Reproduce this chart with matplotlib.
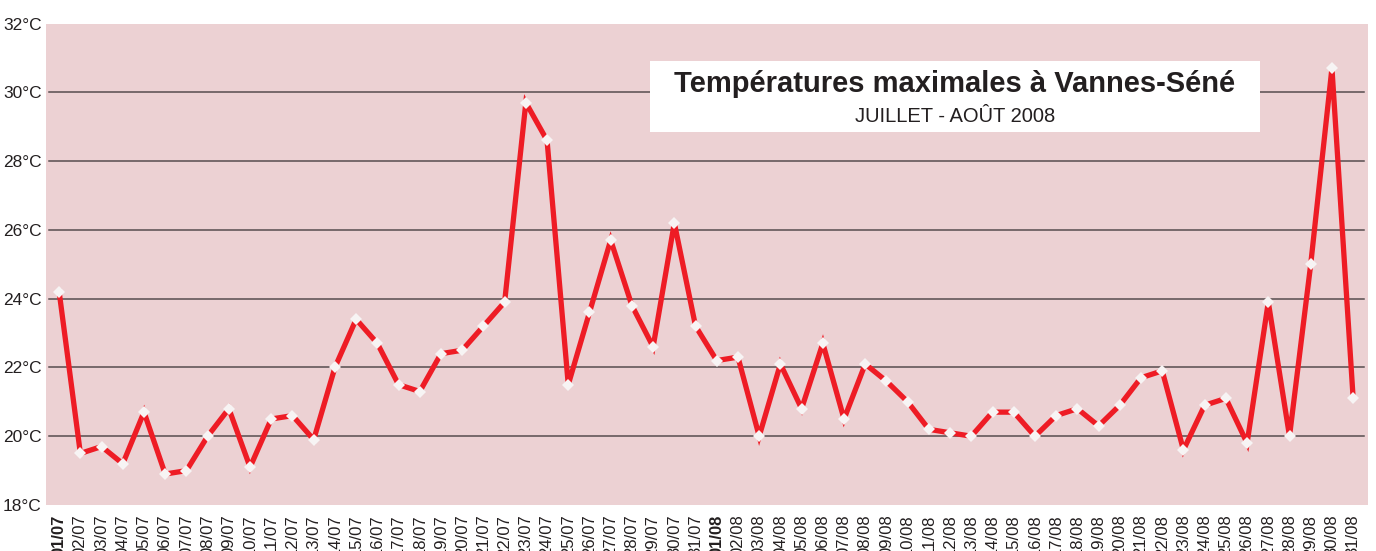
import matplotlib
matplotlib.use("Agg")
import matplotlib.pyplot as plt
from matplotlib import font_manager

dates = ["01/07", "02/07", "03/07", "04/07", "05/07", "06/07", "07/07", "08/07", "09/07", "10/07",
         "11/07", "12/07", "13/07", "14/07", "15/07", "16/07", "17/07", "18/07", "19/07", "20/07",
         "21/07", "22/07", "23/07", "24/07", "25/07", "26/07", "27/07", "28/07", "29/07", "30/07",
         "31/07", "01/08", "02/08", "03/08", "04/08", "05/08", "06/08", "07/08", "08/08", "09/08",
         "10/08", "11/08", "12/08", "13/08", "14/08", "15/08", "16/08", "17/08", "18/08", "19/08",
         "20/08", "21/08", "22/08", "23/08", "24/08", "25/08", "26/08", "27/08", "28/08", "29/08",
         "30/08", "31/08"]
temps = [24.2, 19.5, 19.7, 19.2, 20.7, 18.9, 19.0, 20.0, 20.8, 19.1,
         20.5, 20.6, 19.9, 22.0, 23.4, 22.7, 21.5, 21.3, 22.4, 22.5,
         23.2, 23.9, 29.7, 28.6, 21.5, 23.6, 25.7, 23.8, 22.6, 26.2,
         23.2, 22.2, 22.3, 20.0, 22.1, 20.8, 22.7, 20.5, 22.1, 21.6,
         21.0, 20.2, 20.1, 20.0, 20.7, 20.7, 20.0, 20.6, 20.8, 20.3,
         20.9, 21.7, 21.9, 19.6, 20.9, 21.1, 19.8, 23.9, 20.0, 25.0,
         30.7, 21.1]
yticks = [18, 20, 22, 24, 26, 28, 30, 32]
gridlines = [20, 22, 24, 26, 28, 30]
title = "Températures maximales à Vannes-Séné"
subtitle = "JUILLET - AOÛT 2008"

installed = {f.name for f in font_manager.fontManager.ttflist}
narrow = "Liberation Sans Narrow" if "Liberation Sans Narrow" in installed else "Liberation Sans"
plt.rcParams['font.family'] = ["Liberation Sans", "DejaVu Sans"]

txt = "#231f20"
fig = plt.figure(figsize=(13.76, 5.51), dpi=100)
ax = fig.add_axes([46/1376, 1 - 505/551, 1322/1376, 481.5/551])
ax.set_facecolor("#ecd1d3")
for s in ax.spines.values():
    s.set_visible(False)

x = list(range(len(dates)))
ax.set_xlim(-0.62, len(dates) - 1 + 0.7)
ax.set_ylim(18, 32)

for g in gridlines:
    ax.axhline(g, xmin=3/1322, xmax=1318/1322, color="#574d4f", lw=1.1, zorder=1)

ax.plot(x, temps, color="#ee1c25", lw=3.8, solid_joinstyle="miter", zorder=3)
ax.plot(x, temps, ls="none", marker="D", markersize=6.3, markerfacecolor="#f7f4f4",
        markeredgewidth=0, zorder=4)

ax.set_yticks(yticks)
ax.set_yticklabels([f"{v}°C" for v in yticks], family=[narrow, "DejaVu Sans"],
                   fontsize=12.5, color=txt)
ax.set_xticks(x)
ax.set_xticklabels(dates, rotation=90, family=[narrow, "DejaVu Sans"], fontsize=12,
                   color=txt, va="top", ha="center")
for lab, d in zip(ax.get_xticklabels(), dates):
    if d.startswith("01/"):
        lab.set_fontweight("bold")
ax.tick_params(axis="both", length=0)
ax.tick_params(axis="y", pad=3)
ax.tick_params(axis="x", pad=7)

# title box
bx0, bx1 = 650/1376, 1260/1376
by0, by1 = 1 - 132/551, 1 - 61/551
fig.patches.append(plt.Rectangle((bx0, by0), bx1 - bx0, by1 - by0, transform=fig.transFigure,
                                 facecolor="white", edgecolor="none", zorder=5))
fig.text((bx0 + bx1) / 2, 1 - 84/551, title, ha="center", va="center", fontsize=21,
         fontweight="bold", color=txt, zorder=6)
fig.text((bx0 + bx1) / 2, 1 - 116/551, subtitle, ha="center", va="center", fontsize=14.5,
         color=txt, zorder=6)

fig.savefig("out.png", dpi=100)
